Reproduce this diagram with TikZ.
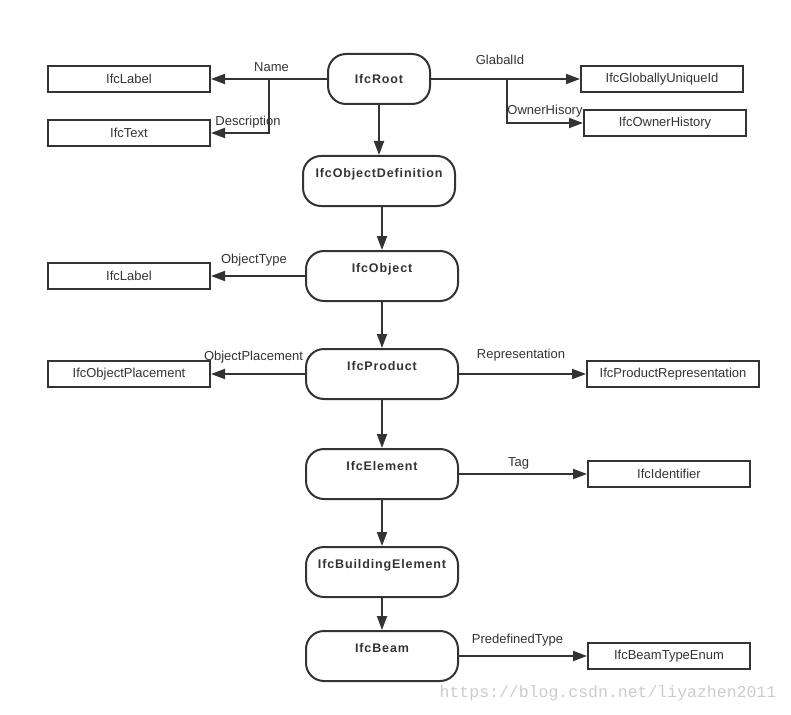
\documentclass[tikz,border=0pt]{standalone}
\usepackage{fontspec}
\setmainfont{Liberation Sans}
\newfontfamily\trackedbold{Liberation Sans}[LetterSpace=7,BoldFont={Liberation Sans Bold}]
\newfontfamily\wmfont{Liberation Mono}
\usetikzlibrary{arrows.meta}
\definecolor{ink}{RGB}{51,51,51}
\definecolor{wm}{RGB}{204,204,204}
\begin{document}
\begin{tikzpicture}[x=1pt,y=-1pt,
  every node/.style={text=ink},
  stadium/.style={draw=ink, line width=2pt, rounded corners=18pt, minimum width=152pt, minimum height=50pt, inner sep=0pt,
    font=\trackedbold\bfseries\fontsize{12.5}{14}\selectfont, text height=9pt, text depth=17pt},
  rootbox/.style={stadium, minimum width=102pt, text height=9pt, text depth=0pt},
  typebox/.style={draw=ink, line width=2pt, minimum width=162pt, minimum height=26pt, inner sep=0pt,
    font=\fontsize{13}{15}\selectfont},
  rel/.style={font=\fontsize{13}{15}\selectfont, inner sep=0pt},
  arr/.style={draw=ink, line width=2pt, -{Triangle[length=14pt,width=10pt]}}]
\useasboundingbox (0,0) rectangle (791,714);

% stadium nodes
\node[rootbox] (root) at (379,79) {IfcRoot};
\node[stadium] (objdef) at (379,181) {IfcObjectDefinition};
\node[stadium] (object) at (382,276) {IfcObject};
\node[stadium] (product) at (382,374) {IfcProduct};
\node[stadium] (element) at (382,474) {IfcElement};
\node[stadium] (building) at (382,572) {IfcBuildingElement};
\node[stadium] (beam) at (382,656) {IfcBeam};

% type boxes
\node[typebox] (label1) at (129,79) {IfcLabel};
\node[typebox] (ifctext) at (129,133) {IfcText};
\node[typebox] (guid) at (662,79) {IfcGloballyUniqueId};
\node[typebox] (owner) at (665,123) {IfcOwnerHistory};
\node[typebox] (label2) at (129,276) {IfcLabel};
\node[typebox] (placement) at (129,374) {IfcObjectPlacement};
\node[typebox, minimum width=172pt] (prodrep) at (673,374) {IfcProductRepresentation};
\node[typebox] (ident) at (669,474) {IfcIdentifier};
\node[typebox] (beamenum) at (669,656) {IfcBeamTypeEnum};

% vertical inheritance arrows
\draw[arr] (root.south) -- (objdef.north);
\draw[arr] (objdef.south -| object.north) -- (object.north);
\draw[arr] (object.south) -- (product.north);
\draw[arr] (product.south) -- (element.north);
\draw[arr] (element.south) -- (building.north);
\draw[arr] (building.south) -- (beam.north);

% attribute arrows
\coordinate (nb) at (269,79);
\coordinate (gb) at (507,79);
\draw[arr] (root.west) -- (label1.east);
\draw[arr] (nb) |- (ifctext.east);
\draw[arr] (root.east) -- (guid.west);
\draw[arr] (gb) |- (owner.west);
\draw[arr] (object.west) -- (label2.east);
\draw[arr] (product.west) -- (placement.east);
\draw[arr] (product.east) -- (prodrep.west);
\draw[arr] (element.east) -- (ident.west);
\draw[arr] (beam.east) -- (beamenum.west);

% relation labels
\node[rel] (lname) at (271.5,67) {Name};
\node[rel] (ldesc) at (248,122) {Description};
\node[rel] (lglob) at (500,60) {GlabalId};
\node[rel] (lowner) at (545,111.5) {OwnerHisory};
\node[rel] (ltype) at (254,260.5) {ObjectType};
\node[rel] (lplace) at (253.5,357) {ObjectPlacement};
\node[rel] (lrep) at (521,355) {Representation};
\node[rel] (ltag) at (518.5,463) {Tag};
\node[rel] (lpre) at (517.5,640.5) {PredefinedType};

% watermark
\node[text=wm, font=\wmfont\fontsize{16.5}{18}\selectfont, inner sep=0pt] (wmark) at (608,693) {https://blog.csdn.net/liyazhen2011};
\end{tikzpicture}
\end{document}
